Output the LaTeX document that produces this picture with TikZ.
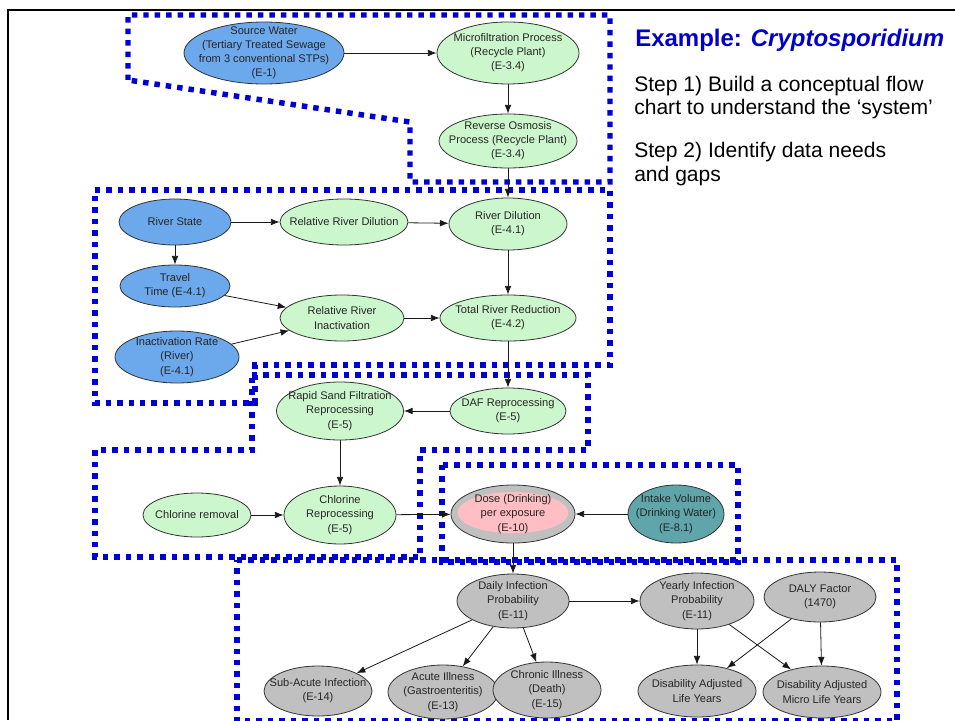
\documentclass[tikz,border=0pt]{standalone}
\usepackage{fontspec}
\setmainfont{Liberation Sans}
\usetikzlibrary{shapes.geometric,arrows.meta}
\definecolor{nodeblue}{RGB}{108,168,236}
\definecolor{nodegreen}{RGB}{204,247,204}
\definecolor{nodegray}{RGB}{192,192,192}
\definecolor{nodepink}{RGB}{255,190,195}
\definecolor{nodeteal}{RGB}{95,165,170}
\definecolor{groupblue}{RGB}{0,0,210}
\definecolor{titleblue}{RGB}{0,0,200}
\begin{document}
\begin{tikzpicture}[x=0.75pt,y=-0.75pt,
  ov/.style={ellipse, draw=black!80, line width=0.6pt, inner xsep=-40pt, inner ysep=-20pt,
    align=center, text=black!85, font=\fontsize{8.3}{10.6}\selectfont},
  sz/.style 2 args={minimum width=#1*0.75pt, minimum height=#2*0.75pt},
  src/.style={ov, fill=nodeblue},
  proc/.style={ov, fill=nodegreen},
  risk/.style={ov, fill=nodegray},
  intake/.style={ov, fill=nodeteal},
  flow/.style={-{Latex[length=6.5pt,width=5pt]}, black!90, line width=0.6pt},
  group/.style={groupblue, line width=4.1pt, dash pattern=on 4.1pt off 4.5pt},
  sidetext/.style={anchor=base west, inner sep=0pt, font=\fontsize{15.8}{18}\selectfont},
]
\useasboundingbox (0,0) rectangle (955,720);

% outer frame
\draw[line width=1.5pt] (8,720) -- (8,10) -- (955,10);

% grouping outlines
\draw[group] (128,80) -- (128,15) -- (610,15) -- (610,182) -- (410,182) -- (410,122) -- cycle;
\draw[group] (95,190) -- (610,190) -- (610,365) -- (255,365) -- (255,403) -- (95,403) -- cycle;
\draw[group] (252,375) -- (588,375) -- (588,450) -- (420,450) -- (420,557) -- (95,557) -- (95,450) -- (252,450) -- cycle;
\draw[group] (442,465) rectangle (738,562);
\draw[group] (237,560) -- (897,560) -- (897,721) -- (237,721) -- cycle;

% recycle plant
\node[src, sz={160}{62}] (source) at (264,53) {Source Water\\(Tertiary Treated Sewage\\from 3 conventional STPs)\\(E-1)};
\node[proc, sz={142}{62}] (micro) at (508,53) {Microfiltration Process\\(Recycle Plant)\\(E-3.4)};
\node[proc, sz={138}{54}] (ro) at (508,141) {Reverse Osmosis\\Process (Recycle Plant)\\(E-3.4)};

% river
\node[src, sz={112}{46}] (riverstate) at (175,222) {River State};
\node[proc, sz={128}{46}] (reldil) at (344,222) {Relative River Dilution};
\node[proc, sz={118}{52}] (rivdil) at (508,224) {River Dilution\\(E-4.1)};
\node[src, sz={110}{42}] (travel) at (175,286) {Travel\\Time (E-4.1)};
\node[proc, sz={124}{46}] (relinact) at (342,318) {Relative River\\Inactivation};
\node[proc, sz={136}{46}] (totred) at (508,318) {Total River Reduction\\(E-4.2)};
\node[src, sz={124}{52}] (inactrate) at (177,357) {Inactivation Rate\\(River)\\(E-4.1)};

% reprocessing
\node[proc, sz={127}{58}] (rsf) at (340,411) {Rapid Sand Filtration\\Reprocessing\\(E-5)};
\node[proc, sz={116}{46}] (daf) at (508,411) {DAF Reprocessing\\(E-5)};
\node[proc, sz={108}{44}] (clrem) at (197,515) {Chlorine removal};
\node[proc, sz={112}{58}] (clrep) at (340,515) {Chlorine\\Reprocessing\\(E-5)};

% exposure
\node[risk, sz={124}{58},
  path picture={\fill[nodepink] ([yshift=1pt]path picture bounding box.center) ellipse [x radius=41.5pt, y radius=15.5pt];}]
  (dose) at (513,514) {Dose (Drinking)\\per exposure\\(E-10)};
\node[intake, sz={96}{58}] (intake) at (676,514) {Intake Volume\\(Drinking Water)\\(E-8.1)};

% health outcomes
\node[risk, sz={112}{54}] (daily) at (513,601) {Daily Infection\\Probability\\(E-11)};
\node[risk, sz={114}{56}] (yearly) at (697,601) {Yearly Infection\\Probability\\(E-11)};
\node[risk, sz={112}{50}] (dalyf) at (820,597) {DALY Factor\\(1470)};
\node[risk, sz={108}{50}] (subacute) at (318,691) {Sub-Acute Infection\\(E-14)};
\node[risk, sz={110}{54}] (acute) at (443,692) {Acute Illness\\(Gastroenteritis)\\(E-13)};
\node[risk, sz={108}{56}] (chronic) at (547,690) {Chronic Illness\\(Death)\\(E-15)};
\node[risk, sz={118}{52}] (daly) at (697,691) {Disability Adjusted\\Life Years};
\node[risk, sz={118}{52}] (dmly) at (822,692) {Disability Adjusted\\Micro Life Years};

% connectors
\draw[flow] (source) -- (micro);
\draw[flow] (micro) -- (ro);
\draw[flow] (ro) -- (rivdil);
\draw[flow] (riverstate) -- (reldil);
\draw[flow] (reldil) -- (rivdil);
\draw[flow] (riverstate) -- (travel);
\draw[flow] (travel) -- (relinact);
\draw[flow] (inactrate) -- (relinact);
\draw[flow] (relinact) -- (totred);
\draw[flow] (rivdil) -- (totred);
\draw[flow] (totred) -- (daf);
\draw[flow] (daf) -- (rsf);
\draw[flow] (rsf) -- (clrep);
\draw[flow] (clrem) -- (clrep);
\draw[flow] (clrep) -- (dose);
\draw[flow] (intake) -- (dose);
\draw[flow] (dose) -- (daily);
\draw[flow] (daily) -- (yearly);
\draw[flow] (daily) -- (subacute);
\draw[flow] (daily) -- (acute);
\draw[flow] (daily) -- (chronic);
\draw[flow] (yearly) -- (daly);
\draw[flow] (yearly) -- (dmly);
\draw[flow] (dalyf) -- (daly);
\draw[flow] (dalyf) -- (dmly);

% side notes
\node[anchor=base west, inner sep=0pt, text=titleblue, font=\fontsize{18}{20}\selectfont\bfseries]
  (title) at (635,47) {Example: \textit{Cryptosporidium}};
\node[sidetext] (stepa) at (634,92) {Step 1) Build a conceptual flow};
\node[sidetext] (stepb) at (634,115) {chart to understand the ‘system’};
\node[sidetext] (stepc) at (634,158) {Step 2) Identify data needs};
\node[sidetext] (stepd) at (634,182) {and gaps};
\end{tikzpicture}
\end{document}
